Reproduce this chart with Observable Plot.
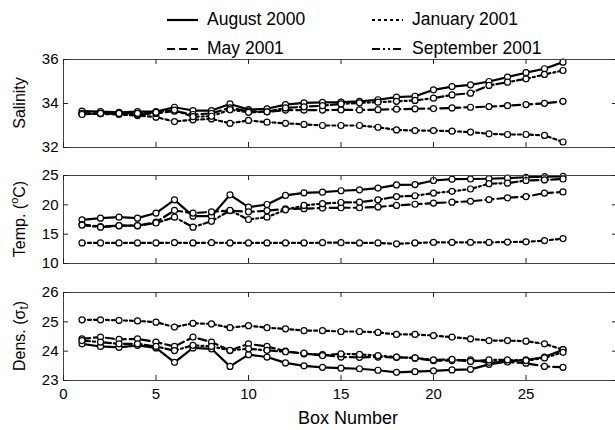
<!DOCTYPE html>
<html><head><meta charset="utf-8">
<script src="https://cdn.jsdelivr.net/npm/d3@7"></script>
<script src="https://cdn.jsdelivr.net/npm/@observablehq/plot@0.6"></script>
<style>
body{margin:0;background:#fff;overflow:hidden;font-family:"Liberation Sans",Arial,sans-serif;}
#chart{position:relative;width:615px;height:430px;overflow:hidden;}
#chart svg{position:absolute;left:0;background:transparent;}
</style></head><body><div id="chart"></div>
<script>
const boxes = [1,2,3,4,5,6,7,8,9,10,11,12,13,14,15,16,17,18,19,20,21,22,23,24,25,26,27];
const seriesNames = ["August 2000","January 2001","May 2001","September 2001"];
const xTicks = [0,5,10,15,20,25,30];
const xTickLabels = [0,5,10,15,20,25];

// Salinity
const salAug  = [33.65,33.63,33.6,33.63,33.63,33.83,33.68,33.68,33.98,33.72,33.76,33.95,34.03,34.05,34.06,34.1,34.17,34.29,34.33,34.62,34.77,34.85,35.0,35.2,35.4,35.58,35.88];
const salJan  = [33.53,33.53,33.5,33.45,33.38,33.18,33.26,33.3,33.1,33.23,33.15,33.1,33.05,33.0,33.0,33.0,32.92,32.8,32.77,32.77,32.74,32.7,32.62,32.59,32.59,32.55,32.25];
const salMay  = [33.55,33.55,33.55,33.5,33.55,33.65,33.5,33.55,33.8,33.65,33.62,33.7,33.7,33.7,33.71,33.71,33.72,33.74,33.76,33.77,33.8,33.83,33.86,33.9,33.95,34.01,34.1];
const salSep  = [33.5,33.55,33.55,33.55,33.6,33.7,33.4,33.42,33.72,33.6,33.62,33.8,33.85,33.9,33.98,34.03,34.06,34.1,34.14,34.24,34.39,34.47,34.82,34.97,35.12,35.32,35.5];
const salTicks = [32,34,36];

// Temperature
const tAug = [17.45,17.73,17.9,17.73,18.6,20.85,18.07,18.07,21.7,19.6,20.06,21.6,22.05,22.16,22.4,22.55,22.85,23.4,23.45,24.15,24.37,24.4,24.45,24.55,24.7,24.8,24.85];
const tJan = [13.5,13.5,13.5,13.5,13.5,13.55,13.5,13.55,13.5,13.5,13.5,13.5,13.5,13.55,13.55,13.5,13.5,13.35,13.5,13.6,13.6,13.6,13.6,13.65,13.7,13.9,14.25];
const tMay = [16.65,16.3,16.45,16.45,17.05,19.04,18.6,18.8,19.0,18.8,19.0,19.3,19.35,19.45,19.5,19.5,19.65,19.9,20.1,20.3,20.45,20.6,20.9,21.2,21.4,22.0,22.2];
const tSep = [16.55,16.2,16.45,16.45,16.9,17.9,16.2,17.2,19.04,17.5,17.9,19.15,19.9,20.2,20.4,20.45,20.85,21.4,21.55,22.0,22.3,22.7,23.6,23.7,24.15,24.25,24.4];
const tTicks = [10,15,20,25];

// Density (sigma-t)
const dAug = [24.25,24.16,24.13,24.2,24.11,23.62,24.11,24.08,23.48,23.88,23.8,23.6,23.5,23.45,23.42,23.4,23.35,23.28,23.3,23.33,23.36,23.38,23.55,23.65,23.7,23.8,24.05];
const dJan = [25.07,25.07,25.05,25.03,24.99,24.82,24.95,24.93,24.8,24.87,24.8,24.76,24.7,24.7,24.67,24.67,24.64,24.57,24.57,24.53,24.48,24.42,24.36,24.36,24.34,24.25,24.05];
const dMay = [24.42,24.48,24.4,24.42,24.31,24.16,24.48,24.31,24.02,24.25,24.16,24.0,23.91,23.88,23.8,23.79,23.8,23.79,23.76,23.68,23.68,23.7,23.62,23.63,23.59,23.48,23.45];
const dSep = [24.36,24.31,24.25,24.25,24.16,24.02,24.2,24.16,24.03,24.08,24.03,23.98,23.93,23.85,23.91,23.89,23.85,23.8,23.77,23.7,23.72,23.65,23.7,23.7,23.68,23.77,23.96];
const dTicks = [23,24,25,26];

const dashes = {"August 2000": null, "January 2001": "3,3", "May 2001": "8,4", "September 2001": "8,3,2,3,2,3"};
const FONT = '"Liberation Sans", Arial, sans-serif';
const chart = document.getElementById("chart");
const PH = 88; // panel height

function panel({values, domain, ticks, top, mb, xAxis, label}) {
  const mt = 10;
  const rows = [];
  seriesNames.forEach((s, i) => values[i].forEach((v, j) => rows.push({box: boxes[j], series: s, value: v})));
  const marks = [];
  for (const s of seriesNames) {
    marks.push(Plot.line(rows.filter(r => r.series === s), {x: "box", y: "value", stroke: "black", strokeWidth: 2.2, strokeDasharray: dashes[s]}));
  }
  marks.push(Plot.dot(rows, {x: "box", y: "value", r: 3, fill: "white", stroke: "black", strokeWidth: 1.2}));
  marks.push(Plot.ruleY([domain[0], domain[1]], {stroke: "#444"}));
  marks.push(Plot.ruleX([0], {stroke: "#444"}));
  marks.push(Plot.tickY(ticks, {stroke: "#222", insetRight: 547}));
  marks.push(Plot.tickY(ticks, {stroke: "#222", insetLeft: 549}));
  marks.push(Plot.tickX(xTicks, {stroke: "#222", insetTop: PH - 5}));
  marks.push(Plot.tickX(xTicks, {stroke: "#222", insetBottom: PH - 5}));
  marks.push(Plot.axisY(ticks, {tickSize: 0, tickPadding: 5, fontSize: 15, label: null}));
  if (xAxis) marks.push(Plot.axisX(xTickLabels, {tickSize: 0, tickPadding: 8, fontSize: 15, label: null}));
  const svg = Plot.plot({
    width: 615, height: PH + mt + mb,
    marginLeft: 63, marginRight: 0, marginTop: mt, marginBottom: mb,
    style: {fontFamily: FONT, fontSize: "15px", color: "black", background: "transparent"},
    x: {domain: [0, 30], range: [63, 618], axis: null},
    y: {domain, axis: null},
    marks
  });
  svg.style.top = (top - mt) + "px";
  chart.appendChild(svg);
  const t = d3.select(svg).append("text")
    .attr("transform", `translate(21,${mt + PH / 2}) rotate(-90)`)
    .attr("text-anchor", "middle").attr("dominant-baseline", "middle")
    .attr("font-family", FONT).attr("font-size", 16).attr("fill", "black");
  label(t);
  return svg;
}

panel({values: [salAug, salJan, salMay, salSep], domain: [32, 36], ticks: salTicks, top: 59, mb: 10,
  label: t => t.text("Salinity")});
panel({values: [tAug, tJan, tMay, tSep], domain: [10, 25], ticks: tTicks, top: 175, mb: 10,
  label: t => { t.append("tspan").text("Temp. ("); t.append("tspan").attr("dy", -6).attr("font-size", 11).text("o"); t.append("tspan").attr("dy", 6).text("C)"); }});
const last = panel({values: [dAug, dJan, dMay, dSep], domain: [23, 26], ticks: dTicks, top: 292, mb: 50, xAxis: true,
  label: t => { t.append("tspan").text("Dens. (σ"); t.append("tspan").attr("dy", 4).attr("font-size", 12).text("t"); t.append("tspan").attr("dy", -4).text(")"); }});
d3.select(last).append("text")
  .attr("x", 348).attr("y", 10 + PH + 44)
  .attr("text-anchor", "middle").attr("font-family", FONT).attr("font-size", 18).attr("fill", "black")
  .text("Box Number");

// Legend
const leg = d3.select(chart).append("svg").attr("width", 615).attr("height", 60).style("top", "0px");
const legPos = [[167, 20], [372, 20], [167, 49], [372, 49]];
const legOrder = ["August 2000", "January 2001", "May 2001", "September 2001"];
legOrder.forEach((s, i) => {
  const [lx, ly] = legPos[i];
  leg.append("line").attr("x1", lx).attr("x2", lx + 31).attr("y1", ly).attr("y2", ly)
    .attr("stroke", "black").attr("stroke-width", 2.2).attr("stroke-dasharray", dashes[s]);
  leg.append("text").attr("x", lx + 40).attr("y", ly).attr("dominant-baseline", "middle")
    .attr("font-family", FONT).attr("font-size", 17.5).attr("fill", "black").text(s);
});
</script></body></html>
